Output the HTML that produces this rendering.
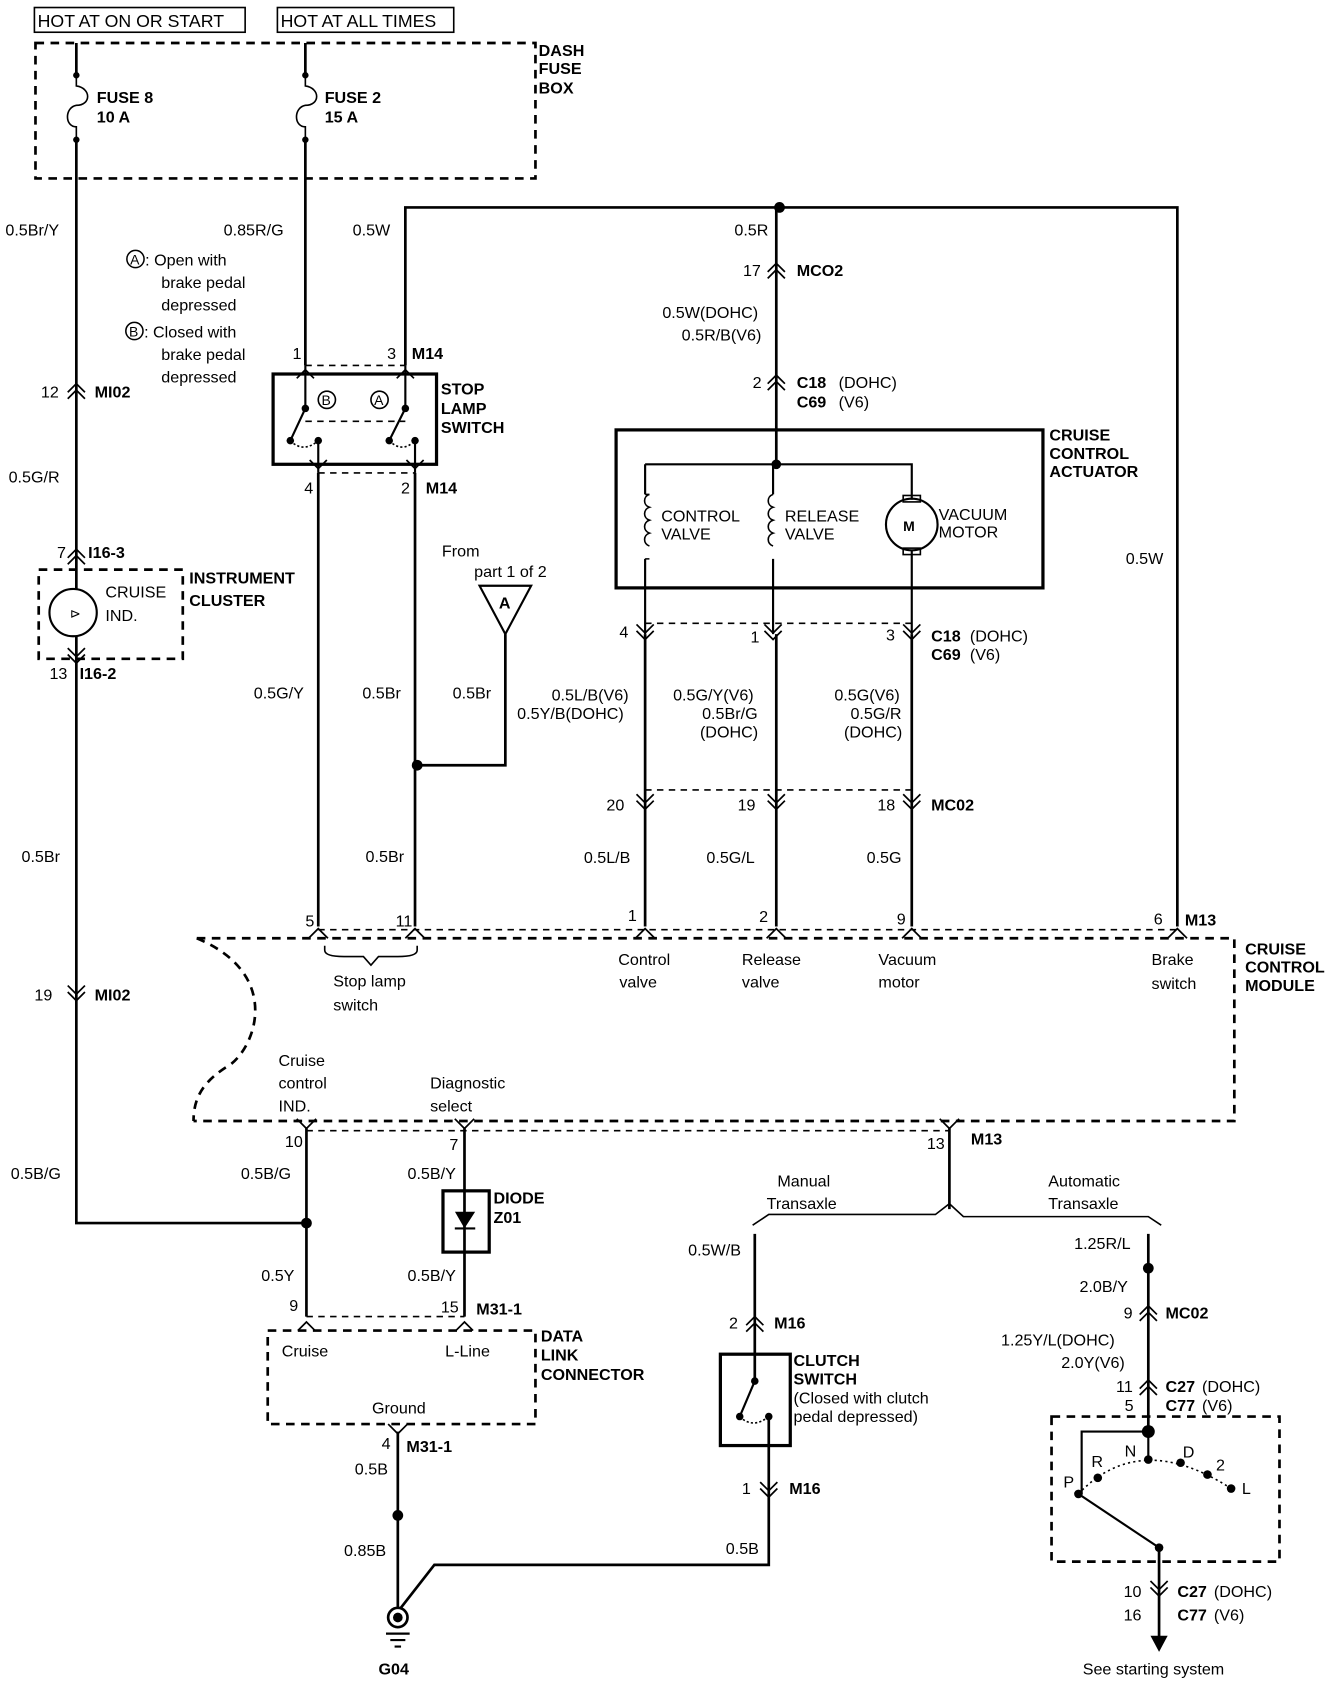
<!DOCTYPE html>
<html><head><meta charset="utf-8"><style>
html,body{margin:0;padding:0;background:#fff;}
svg{display:block;}
text{font-family:"Liberation Sans",sans-serif;font-size:15px;fill:#000;}
.b{font-weight:bold;}
</style></head><body>
<svg width="1344" height="1682" viewBox="0 0 1250 1565" preserveAspectRatio="none" xmlns="http://www.w3.org/2000/svg">
<defs>
<path id="up2" d="M-8,5 L0,-3 L8,5 M-8,11 L0,3 L8,11" fill="none" stroke="#000" stroke-width="1.6"/>
<path id="dn2" d="M-8,-5 L0,3 L8,-5 M-8,-11 L0,-3 L8,-11" fill="none" stroke="#000" stroke-width="1.6"/>
<path id="up1" d="M-9,7 L0,-2 L9,7" fill="none" stroke="#000" stroke-width="1.6"/>
<path id="dn1" d="M-9,-7 L0,2 L9,-7" fill="none" stroke="#000" stroke-width="1.6"/>
</defs>
<g fill="none" stroke="#000">
<rect x="32" y="7" width="196" height="23" stroke-width="1.5"/>
<rect x="258" y="7" width="164" height="23" stroke-width="1.5"/>
<rect x="33" y="40" width="465" height="126" stroke-width="2.5" stroke-dasharray="8,6"/>
<path d="M71,40 V70 M71,130 V1138 H285" stroke-width="2.5"/>
<path d="M71,70 V80 C85,82 85,98 71,98 C60,100 60,118 71,118 V130" stroke-width="1.5"/>
<path d="M284,40 V70 M284,130 V340" stroke-width="2.5"/>
<path d="M284,70 V80 C298,82 298,98 284,98 C273,100 273,118 284,118 V130" stroke-width="1.5"/>
<path d="M377,340 V193 H1095 V862" stroke-width="2.5"/>
<path d="M722,193 V432" stroke-width="2.5"/>
<rect x="254" y="348" width="152" height="84" stroke-width="3"/>
<path d="M284,340 V380 M377,340 V380 M296,410 V440 M386,410 V440" stroke-width="2"/>
<path d="M284,380 L270,410 M377,380 L362,410" stroke-width="2"/>
<path d="M270,410 Q282,422 296,410 M362,410 Q374,422 386,410" stroke-width="1.5" stroke-dasharray="2,2"/>
<path d="M284,392 H377" stroke-width="1.5" stroke-dasharray="6,5"/>
<path d="M284,340 H377 M296,440 H386" stroke-width="1.5" stroke-dasharray="6,5"/>
<path d="M276,352 L284,344 L292,352 M369,352 L377,344 L385,352 M288,428 L296,436 L304,428 M378,428 L386,436 L394,428" stroke-width="1.6"/>
<circle cx="304" cy="372" r="8" stroke-width="1.5"/>
<circle cx="353" cy="372" r="8" stroke-width="1.5"/>
<path d="M296,440 V862 M386,440 V862 M388,712 H470 V590" stroke-width="2.5"/>
<path d="M446,545 H494 L470,590 Z" stroke-width="2"/>
<rect x="36" y="530" width="134" height="83" stroke-width="2.5" stroke-dasharray="8,6"/>
<circle cx="68" cy="570" r="22" stroke-width="2" fill="#fff"/>
<rect x="573" y="400" width="397" height="147" stroke-width="3"/>
<path d="M600,432 H848 V465" stroke-width="2"/>
<path d="M600,432 V460 M719,432 V460 M600,520 V590 M719,520 V590 M848,512 V590" stroke-width="2"/>
<path d="M604,460 c-6,2 -6,10 0,12 c-6,2 -6,10 0,12 c-6,2 -6,10 0,12 c-6,2 -6,10 0,12 M719,460 c-6,2 -6,10 0,12 c-6,2 -6,10 0,12 c-6,2 -6,10 0,12 c-6,2 -6,10 0,12" stroke-width="1.5"/>
<path d="M604,460 H600 M604,520 H600" stroke-width="1.5"/>
<circle cx="848" cy="488" r="24" stroke-width="2"/>
<rect x="840" y="461" width="16" height="6" stroke-width="1.5"/>
<rect x="840" y="510" width="16" height="6" stroke-width="1.5"/>
<path d="M600,590 V862 M722,590 V862 M848,590 V862" stroke-width="2.5"/>
<path d="M600,580 H848 M600,735 H848" stroke-width="1.5" stroke-dasharray="6,5"/>
<path d="M183,873 H1148 V1043 H180" stroke-width="2.5" stroke-dasharray="8,6"/>
<path d="M183,873 C260,905 240,970 215,990 C190,1005 180,1020 180,1043" stroke-width="2.5" stroke-dasharray="8,6"/>
<path d="M296,865 H1095" stroke-width="1.5" stroke-dasharray="6,5"/>
<path d="M285,1052 H883" stroke-width="1.5" stroke-dasharray="6,5"/>
<path d="M302,880 V884 Q302,890 320,890 H338 L345,898 L352,890 H370 Q388,890 388,884 V880" stroke-width="1.5"/>
<path d="M285,1050 V1225 M432,1050 V1225 M883,1050 V1125" stroke-width="2.5"/>
<path d="M700,1140 L715,1130 H870 L883,1120 L896,1132 H1068 L1080,1140" stroke-width="1.5"/>
<rect x="412" y="1108" width="43" height="57" stroke-width="3"/>
<path d="M424,1128 H441 L432,1142 Z" fill="#000" stroke-width="1"/>
<path d="M423,1143 H442" stroke-width="2"/>
<path d="M285,1225 H432" stroke-width="1.5" stroke-dasharray="6,5"/>
<rect x="249" y="1238" width="249" height="87" stroke-width="2.5" stroke-dasharray="8,6"/>
<path d="M277,1238 L285,1230 L293,1238 M424,1238 L432,1230 L440,1238" stroke-width="1.6"/>
<path d="M370,1332 V1496 M372,1497 L404,1456 H715 V1385" stroke-width="2.5"/>
<circle cx="370" cy="1505" r="9" stroke-width="2.5"/>
<path d="M359,1520 H381 M363,1526 H377 M367,1532 H373" stroke-width="2"/>
<path d="M702,1148 V1285 M715,1318 V1385" stroke-width="2.5"/>
<rect x="670" y="1260" width="65" height="85" stroke-width="3"/>
<path d="M702,1285 L688,1318" stroke-width="2"/>
<path d="M688,1318 Q700,1330 715,1318" stroke-width="1.5" stroke-dasharray="2,2"/>
<path d="M1068,1148 V1332 M1078,1440 V1525" stroke-width="2.5"/>
<rect x="978" y="1318" width="212" height="135" stroke-width="2.5" stroke-dasharray="8,6"/>
<path d="M1068,1332 H1006 V1390 M1068,1332 V1358 M1003,1390 L1078,1440" stroke-width="2"/>
<path d="M1003,1390 Q1060,1330 1145,1385" stroke-width="1.5" stroke-dasharray="2,3"/>
</g>
<path d="M1070,1522 H1086 L1078,1537 Z" fill="#000"/>
<g fill="#000">
<circle cx="370" cy="1505" r="4.5"/>
<circle cx="725" cy="193" r="5"/><circle cx="722" cy="432" r="4.5"/>
<circle cx="388" cy="712" r="5"/><circle cx="285" cy="1138" r="5"/>
<circle cx="370" cy="1410" r="5"/><circle cx="1068" cy="1180" r="5"/>
<circle cx="1068" cy="1332" r="6"/>
<circle cx="71" cy="70" r="3"/><circle cx="71" cy="130" r="3"/>
<circle cx="284" cy="70" r="3"/><circle cx="284" cy="130" r="3"/>
<circle cx="284" cy="380" r="3.5"/><circle cx="377" cy="380" r="3.5"/>
<circle cx="270" cy="410" r="3.5"/><circle cx="296" cy="410" r="3.5"/>
<circle cx="362" cy="410" r="3.5"/><circle cx="386" cy="410" r="3.5"/>
<circle cx="702" cy="1285" r="3.5"/><circle cx="688" cy="1318" r="3.5"/><circle cx="715" cy="1318" r="3.5"/>
<circle cx="1003" cy="1390" r="4"/><circle cx="1021" cy="1375" r="4"/><circle cx="1068" cy="1358" r="4"/>
<circle cx="1098" cy="1361" r="4"/><circle cx="1123" cy="1372" r="4"/><circle cx="1145" cy="1385" r="4"/>
<circle cx="1078" cy="1440" r="4"/>
</g>
<use href="#up2" x="71" y="360"/><use href="#up2" x="71" y="514"/><use href="#dn2" x="71" y="614"/>
<use href="#dn2" x="71" y="928"/>
<use href="#up2" x="722" y="248"/><use href="#up2" x="722" y="352"/>
<use href="#dn2" x="600" y="592"/><use href="#dn2" x="719" y="592"/><use href="#dn2" x="848" y="592"/>
<use href="#dn2" x="600" y="750"/><use href="#dn2" x="722" y="750"/><use href="#dn2" x="848" y="750"/>
<use href="#up1" x="296" y="866"/><use href="#up1" x="386" y="866"/><use href="#up1" x="600" y="866"/>
<use href="#up1" x="722" y="866"/><use href="#up1" x="848" y="866"/><use href="#up1" x="1095" y="866"/>
<use href="#dn1" x="285" y="1048"/><use href="#dn1" x="432" y="1048"/><use href="#dn1" x="883" y="1048"/>
<use href="#dn1" x="370" y="1332"/>
<use href="#up2" x="702" y="1228"/><use href="#dn2" x="715" y="1390"/>
<use href="#up2" x="1068" y="1218"/><use href="#up2" x="1068" y="1287"/><use href="#dn2" x="1078" y="1482"/>
<text x="35" y="25" style="font-size:16.5px">HOT AT ON OR START</text>
<text x="261" y="25" style="font-size:16.5px">HOT AT ALL TIMES</text>
<text class="b" x="501" y="52">DASH</text><text class="b" x="501" y="69">FUSE</text><text class="b" x="501" y="87">BOX</text>
<text class="b" x="90" y="96">FUSE 8</text><text class="b" x="90" y="114">10 A</text>
<text class="b" x="302" y="96">FUSE 2</text><text class="b" x="302" y="114">15 A</text>
<text x="5" y="219">0.5Br/Y</text><text x="208" y="219">0.85R/G</text><text x="328" y="219">0.5W</text>
<circle cx="126" cy="241" r="8" fill="none" stroke="#000" stroke-width="1.4"/><text x="121" y="246" style="font-size:13px">A</text>
<text x="135" y="247">: Open with</text><text x="150" y="268">brake pedal</text><text x="150" y="289">depressed</text>
<circle cx="125" cy="308" r="8" fill="none" stroke="#000" stroke-width="1.4"/><text x="120" y="313" style="font-size:13px">B</text>
<text x="134" y="314">: Closed with</text><text x="150" y="335">brake pedal</text><text x="150" y="356">depressed</text>
<text x="272" y="334">1</text><text x="360" y="334">3</text><text class="b" x="383" y="334">M14</text>
<text x="299" y="377" style="font-size:13px">B</text><text x="348" y="377" style="font-size:13px">A</text>
<text class="b" x="410" y="367">STOP</text><text class="b" x="410" y="385">LAMP</text><text class="b" x="410" y="403">SWITCH</text>
<text x="283" y="459">4</text><text x="373" y="459">2</text><text class="b" x="396" y="459">M14</text>
<text x="38" y="370">12</text><text class="b" x="88" y="370">MI02</text>
<text x="8" y="449">0.5G/R</text>
<text x="53" y="519">7</text><text class="b" x="82" y="519">I16-3</text>
<text x="98" y="556">CRUISE</text><text x="98" y="578">IND.</text>
<text x="65" y="575" style="font-size:12px">&#x22B3;</text>
<text class="b" x="176" y="543">INSTRUMENT</text><text class="b" x="176" y="564">CLUSTER</text>
<text x="46" y="632">13</text><text class="b" x="74" y="632">I16-2</text>
<text x="411" y="518">From</text><text x="441" y="537">part 1 of 2</text>
<text class="b" x="464" y="566">A</text>
<text x="236" y="650">0.5G/Y</text><text x="337" y="650">0.5Br</text><text x="421" y="650">0.5Br</text>
<text x="20" y="802">0.5Br</text><text x="340" y="802">0.5Br</text>
<text x="32" y="931">19</text><text class="b" x="88" y="931">MI02</text>
<text x="683" y="219">0.5R</text>
<text x="691" y="257">17</text><text class="b" x="741" y="257">MCO2</text>
<text x="616" y="296">0.5W(DOHC)</text><text x="634" y="317">0.5R/B(V6)</text>
<text x="700" y="361">2</text><text class="b" x="741" y="361">C18</text><text x="780" y="361">(DOHC)</text>
<text class="b" x="741" y="379">C69</text><text x="780" y="379">(V6)</text>
<text class="b" x="976" y="410">CRUISE</text><text class="b" x="976" y="427">CONTROL</text><text class="b" x="976" y="444">ACTUATOR</text>
<text x="615" y="485">CONTROL</text><text x="615" y="502">VALVE</text>
<text x="730" y="485">RELEASE</text><text x="730" y="502">VALVE</text>
<text class="b" x="840" y="494" style="font-size:13px">M</text>
<text x="873" y="484">VACUUM</text><text x="873" y="500">MOTOR</text>
<text x="1047" y="525">0.5W</text>
<text x="576" y="593">4</text><text x="698" y="598">1</text><text x="824" y="596">3</text>
<text class="b" x="866" y="597">C18</text><text x="902" y="597">(DOHC)</text>
<text class="b" x="866" y="614">C69</text><text x="902" y="614">(V6)</text>
<text x="513" y="652">0.5L/B(V6)</text><text x="481" y="669">0.5Y/B(DOHC)</text>
<text x="626" y="652">0.5G/Y(V6)</text><text x="653" y="669">0.5Br/G</text><text x="651" y="686">(DOHC)</text>
<text x="776" y="652">0.5G(V6)</text><text x="791" y="669">0.5G/R</text><text x="785" y="686">(DOHC)</text>
<text x="564" y="754">20</text><text x="686" y="754">19</text><text x="816" y="754">18</text><text class="b" x="866" y="754">MC02</text>
<text x="543" y="803">0.5L/B</text><text x="657" y="803">0.5G/L</text><text x="806" y="803">0.5G</text>
<text x="284" y="862">5</text><text x="368" y="862">11</text><text x="584" y="857">1</text><text x="706" y="858">2</text>
<text x="834" y="860">9</text><text x="1073" y="860">6</text><text class="b" x="1102" y="861">M13</text>
<text x="575" y="898">Control</text><text x="576" y="919">valve</text>
<text x="690" y="898">Release</text><text x="690" y="919">valve</text>
<text x="817" y="898">Vacuum</text><text x="817" y="919">motor</text>
<text x="1071" y="898">Brake</text><text x="1071" y="920">switch</text>
<text class="b" x="1158" y="888">CRUISE</text><text class="b" x="1158" y="905">CONTROL</text><text class="b" x="1158" y="922">MODULE</text>
<text x="310" y="918">Stop lamp</text><text x="310" y="940">switch</text>
<text x="259" y="992">Cruise</text><text x="259" y="1013">control</text><text x="259" y="1034">IND.</text>
<text x="400" y="1013">Diagnostic</text><text x="400" y="1034">select</text>
<text x="265" y="1067">10</text><text x="418" y="1070">7</text><text x="862" y="1069">13</text><text class="b" x="903" y="1065">M13</text>
<text x="10" y="1097">0.5B/G</text><text x="224" y="1097">0.5B/G</text><text x="379" y="1097">0.5B/Y</text>
<text class="b" x="459" y="1120">DIODE</text><text class="b" x="459" y="1138">Z01</text>
<text x="243" y="1192">0.5Y</text><text x="379" y="1192">0.5B/Y</text>
<text x="269" y="1220">9</text><text x="410" y="1221">15</text><text class="b" x="443" y="1223">M31-1</text>
<text class="b" x="503" y="1248">DATA</text><text class="b" x="503" y="1266">LINK</text><text class="b" x="503" y="1284">CONNECTOR</text>
<text x="262" y="1262">Cruise</text><text x="414" y="1262">L-Line</text><text x="346" y="1315">Ground</text>
<text x="355" y="1348">4</text><text class="b" x="378" y="1351">M31-1</text>
<text x="330" y="1372">0.5B</text><text x="320" y="1448">0.85B</text><text x="675" y="1446">0.5B</text>
<text class="b" x="352" y="1558">G04</text>
<text x="723" y="1104">Manual</text><text x="713" y="1125">Transaxle</text>
<text x="975" y="1104">Automatic</text><text x="975" y="1125">Transaxle</text>
<text x="640" y="1168">0.5W/B</text>
<text x="678" y="1236">2</text><text class="b" x="720" y="1236">M16</text>
<text class="b" x="738" y="1271">CLUTCH</text><text class="b" x="738" y="1288">SWITCH</text>
<text x="738" y="1306">(Closed with clutch</text><text x="738" y="1323">pedal depressed)</text>
<text x="690" y="1390">1</text><text class="b" x="734" y="1390">M16</text>
<text x="999" y="1162">1.25R/L</text><text x="1004" y="1202">2.0B/Y</text>
<text x="1045" y="1227">9</text><text class="b" x="1084" y="1227">MC02</text>
<text x="931" y="1252">1.25Y/L(DOHC)</text><text x="987" y="1273">2.0Y(V6)</text>
<text x="1038" y="1295">11</text><text class="b" x="1084" y="1295">C27</text><text x="1118" y="1295">(DOHC)</text>
<text x="1046" y="1313">5</text><text class="b" x="1084" y="1313">C77</text><text x="1118" y="1313">(V6)</text>
<text x="1015" y="1365">R</text><text x="1046" y="1355">N</text><text x="1100" y="1356">D</text><text x="1131" y="1368">2</text>
<text x="989" y="1384">P</text><text x="1155" y="1390">L</text>
<text x="1045" y="1486">10</text><text class="b" x="1095" y="1486">C27</text><text x="1129" y="1486">(DOHC)</text>
<text x="1045" y="1508">16</text><text class="b" x="1095" y="1508">C77</text><text x="1129" y="1508">(V6)</text>
<text x="1007" y="1558">See starting system</text>
</svg>
</body></html>
